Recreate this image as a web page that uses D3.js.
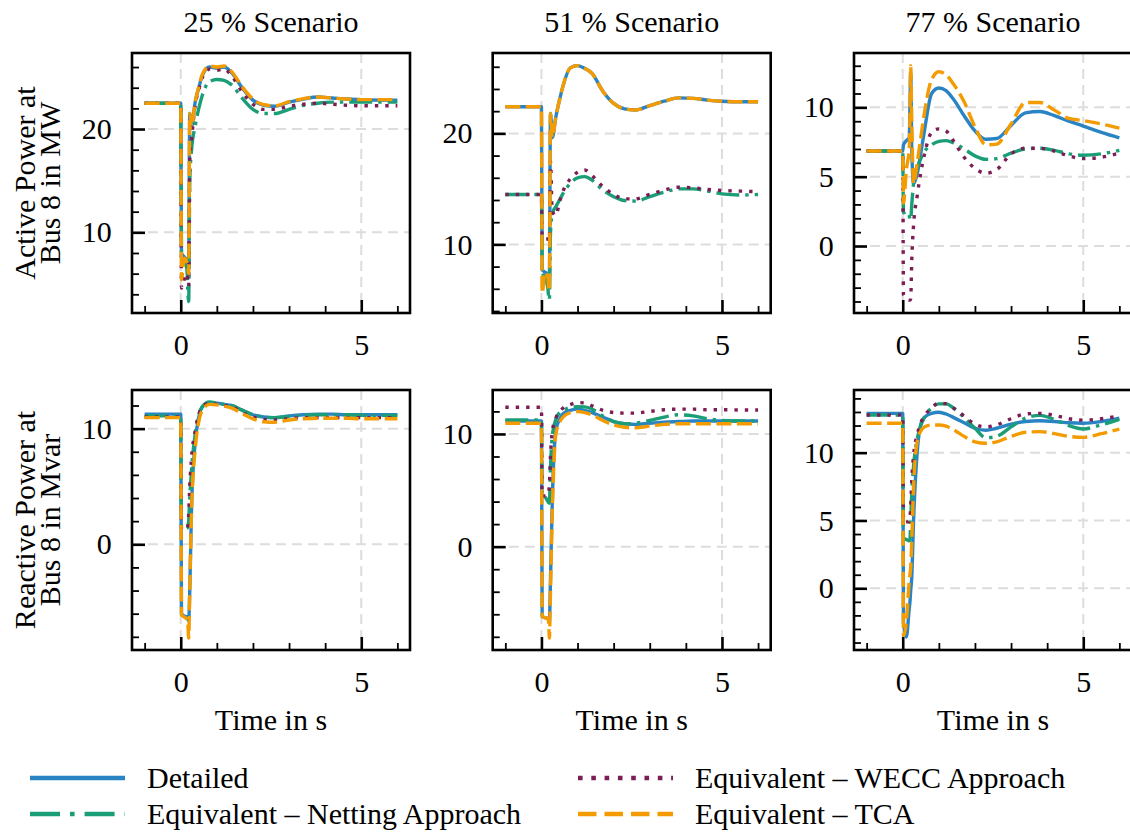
<!DOCTYPE html>
<html><head><meta charset="utf-8">
<script src="https://cdn.jsdelivr.net/npm/d3@7"></script>
<style>
body{margin:0;background:#fff;}
svg{display:block;}
svg text{font-family:"Liberation Serif","Times New Roman",Times,serif !important;fill:#000;}
</style>
</head><body>
<svg id="chart" width="1130" height="832"></svg>
<script>
// ---------------- data ----------------
const time = [-1, 0, 0.02, 0.1, 0.18, 0.2, 0.22, 0.25, 0.3, 0.4, 0.5, 0.6, 0.8, 1.0, 1.2, 1.4, 1.7, 2.0, 2.3, 2.6, 3.0, 3.4, 3.8, 4.2, 4.6, 5.0, 5.5, 6.0];
const scenarios = ["25 % Scenario", "51 % Scenario", "77 % Scenario"];
const seriesNames = ["Detailed", "Equivalent – Netting Approach", "Equivalent – WECC Approach", "Equivalent – TCA"];
const rowLabels = [["Active Power at", "Bus 8 in MW"], ["Reactive Power at", "Bus 8 in Mvar"]];
const xLabel = "Time in s";
const xMajorTicks = [0, 5];
const xMinorTicks = [-1, 1, 2, 3, 4, 6];
const yMajorTicks = [[[10, 20], [10, 20], [0, 5, 10]], [[0, 10], [0, 10], [0, 5, 10]]];
const yMinorStep = [[2, 2, 1], [2, 2, 1]];

// Active power, 25 %
const p25Detailed = [22.5,22.5,8.0,7.6,7.3,7.0,7.0,21.5,20.2,22.6,24.0,25.2,26.0,25.9,26.0,25.5,24.0,22.8,22.3,22.2,22.6,22.9,23.1,23.0,22.9,22.85,22.8,22.8];
const p25Netting  = [22.5,22.5,8.0,7.8,6.0,4.0,3.3,15.0,18.0,20.3,22.0,23.3,24.6,24.8,24.7,24.3,23.0,21.9,21.5,21.5,21.9,22.3,22.5,22.6,22.6,22.6,22.6,22.6];
const p25Wecc     = [22.5,22.5,4.6,5.5,6.0,5.0,4.8,17.0,19.0,22.3,23.8,25.0,25.8,25.7,25.8,25.2,23.6,22.4,21.9,21.9,22.2,22.4,22.5,22.4,22.3,22.25,22.25,22.25];
const p25Tca      = [22.5,22.5,5.4,7.5,7.0,6.5,6.0,21.5,20.2,22.6,24.1,25.3,26.1,26.0,26.1,25.6,24.1,22.9,22.35,22.25,22.65,22.95,23.1,23.0,22.9,22.85,22.85,22.85];
// Active power, 51 %
const p51Detailed = [22.4,22.4,7.7,7.5,7.3,7.0,7.0,21.8,19.6,21.5,23.0,24.3,25.9,26.1,25.85,25.4,23.8,22.7,22.2,22.1,22.5,22.9,23.2,23.15,23.0,22.9,22.85,22.85];
const p51Netting  = [14.5,14.5,7.5,7.0,6.0,5.2,5.0,11.0,12.8,13.4,14.0,14.6,15.5,16.0,16.1,15.8,14.9,14.3,13.95,13.9,14.3,14.7,15.0,15.0,14.8,14.55,14.45,14.5];
const p51Wecc     = [14.5,14.5,10.7,10.5,10.5,10.3,10.3,17.5,13.0,12.6,13.8,14.8,15.9,16.5,16.7,16.2,15.2,14.5,14.1,14.1,14.5,14.9,15.15,15.1,14.95,14.85,14.8,14.75];
const p51Tca      = [22.4,22.4,5.6,7.5,7.0,6.0,5.8,21.8,19.6,21.5,23.0,24.3,25.9,26.1,25.85,25.4,23.8,22.7,22.2,22.1,22.5,22.9,23.2,23.15,23.0,22.9,22.85,22.85];
// Active power, 77 %
const p77Detailed = [6.85,6.85,7.3,7.6,7.8,10.0,12.5,7.0,4.5,5.2,6.7,8.3,11.0,11.4,11.2,10.6,9.4,8.3,7.7,7.75,8.7,9.6,9.7,9.4,9.0,8.65,8.2,7.8];
const p77Netting  = [6.85,6.85,2.4,2.5,2.2,1.9,1.9,3.0,4.5,5.6,6.3,6.8,7.3,7.55,7.6,7.45,7.0,6.5,6.25,6.3,6.7,7.0,7.05,6.9,6.65,6.55,6.65,6.9];
const p77Wecc     = [6.85,6.85,-3.5,-3.8,-3.9,-3.9,-3.8,-1.0,1.5,3.6,5.3,6.6,8.2,8.45,8.3,7.6,6.4,5.6,5.25,5.5,6.65,7.05,7.05,6.85,6.5,6.3,6.4,6.7];
const p77Tca      = [6.85,6.85,3.1,5.5,7.0,9.5,13.0,9.0,4.5,6.0,7.8,9.6,12.0,12.57,12.35,11.7,10.4,8.6,7.3,7.35,8.8,10.35,10.35,9.8,9.2,9.05,8.8,8.5];
// Reactive power, 25 %
const q25Detailed = [11.25,11.25,-6.0,-6.2,-6.3,-6.5,-6.6,-4.0,3.3,8.8,11.0,11.9,12.25,12.2,12.1,12.0,11.6,11.2,11.0,10.95,11.1,11.2,11.25,11.25,11.2,11.2,11.2,11.2];
const q25Netting  = [11.1,11.1,1.5,1.3,1.4,1.6,2.0,4.0,6.5,9.5,11.2,11.9,12.3,12.2,12.1,12.0,11.6,11.2,11.0,10.95,11.05,11.15,11.2,11.2,11.2,11.15,11.15,11.15];
const q25Wecc     = [11.0,11.0,1.3,1.2,1.4,1.6,2.5,5.0,7.5,9.8,11.2,11.9,12.2,12.1,12.0,11.9,11.4,11.0,10.8,10.75,10.85,10.95,10.95,10.95,10.95,10.95,10.95,10.95];
const q25Tca      = [10.95,10.95,-6.1,-6.3,-6.5,-7.0,-8.1,-4.0,3.0,8.2,10.6,11.6,12.1,12.05,11.95,11.8,11.3,10.85,10.6,10.55,10.75,10.85,10.9,10.9,10.9,10.85,10.85,10.85];
// Reactive power, 51 %
const q51Detailed = [11.15,11.15,-6.2,-6.3,-6.4,-6.5,-6.6,-3.0,4.0,10.3,11.3,11.8,12.1,12.2,12.1,11.9,11.5,11.1,10.9,10.85,10.95,11.05,11.1,11.15,11.15,11.15,11.15,11.15];
const q51Netting  = [11.24,11.24,4.5,4.4,4.0,3.9,3.85,7.0,9.8,11.3,11.9,12.1,12.35,12.42,12.4,12.2,11.6,11.1,10.9,10.95,11.2,11.5,11.7,11.6,11.35,11.2,11.15,11.15];
const q51Wecc     = [12.37,12.37,4.5,4.5,4.6,4.8,5.5,8.0,10.2,11.4,12.0,12.3,12.6,12.78,12.75,12.5,12.1,11.9,11.85,11.85,12.0,12.15,12.2,12.2,12.15,12.15,12.13,12.13];
const q51Tca      = [10.95,10.95,-6.2,-6.3,-6.4,-6.8,-8.1,-4.0,3.0,10.0,11.0,11.5,11.9,11.98,11.9,11.7,11.2,10.8,10.6,10.55,10.7,10.85,10.9,10.9,10.9,10.9,10.9,10.9];
// Reactive power, 77 %
const q77Detailed = [12.9,12.9,-2.5,-3.6,-1.5,-1.0,-0.2,0.8,5.0,10.0,12.1,12.6,12.9,12.98,12.85,12.6,12.2,11.8,11.65,11.8,12.1,12.3,12.35,12.3,12.2,12.17,12.3,12.55];
const q77Netting  = [12.78,12.78,3.7,3.6,3.5,3.6,5.0,7.0,9.0,11.0,12.0,12.6,13.3,13.6,13.6,13.3,12.6,11.8,11.1,11.2,11.9,12.55,12.75,12.45,12.0,11.75,12.05,12.45];
const q77Wecc     = [12.78,12.78,4.9,4.9,4.9,5.2,6.0,8.0,9.8,11.3,12.2,12.7,13.3,13.65,13.6,13.3,12.7,12.1,11.9,12.05,12.5,12.85,12.9,12.75,12.5,12.4,12.5,12.7];
const q77Tca      = [12.17,12.17,-3.5,-2.5,0.5,1.0,1.5,3.5,7.5,10.8,11.6,11.9,12.04,12.04,11.95,11.7,11.2,10.8,10.69,10.8,11.2,11.5,11.55,11.4,11.2,11.13,11.4,11.73];

// ---------------- layout / style ----------------
const panelLeft = [132, 492.7, 854];
const panelTop = [53, 390];
const PW = 278, PH = 260;
const xDomain = [-1.35, 6.35];
const yDomains = [[[2.19, 27.36], [3.82, 27.24], [-4.83, 13.92]],
                  [[-9.14, 13.34], [-9.17, 13.9], [-4.55, 14.62]]];
const colors = ["#2a84c4", "#1b9e77", "#7d1d55", "#f39b00"];
const dashes = ["none", "23,6,3.4,6", "3.4,7", "15,5.5"];
const legendDashes = ["none", "30,10,4.6,10", "4.6,8.7", "18.5,8"];
const FS = 30;
const FONT = '"Liberation Serif","Times New Roman",Times,serif';

const panelData = [
  [[p25Detailed, p25Netting, p25Wecc, p25Tca], [p51Detailed, p51Netting, p51Wecc, p51Tca], [p77Detailed, p77Netting, p77Wecc, p77Tca]],
  [[q25Detailed, q25Netting, q25Wecc, q25Tca], [q51Detailed, q51Netting, q51Wecc, q51Tca], [q77Detailed, q77Netting, q77Wecc, q77Tca]]
];

const svg = d3.select("#chart").attr("font-family", FONT);
svg.append("rect").attr("width", 1130).attr("height", 832).attr("fill", "#fff");

function addText(sel) {
  return sel.append("text").style("font-family", FONT).style("font-size", FS + "px").attr("fill", "#000");
}

for (let r = 0; r < 2; r++) {
  for (let c = 0; c < 3; c++) {
    const g = svg.append("g").attr("transform", `translate(${panelLeft[c]},${panelTop[r]})`);
    const x = d3.scaleLinear().domain(xDomain).range([0, PW]);
    const y = d3.scaleLinear().domain(yDomains[r][c]).range([PH, 0]);
    const majors = yMajorTicks[r][c];
    const step = yMinorStep[r][c];
    const dom = yDomains[r][c];
    const minors = d3.range(Math.ceil(dom[0] / step) * step, dom[1], step)
      .filter(v => !majors.some(m => Math.abs(m - v) < 1e-9));

    // grid
    g.selectAll(".gx").data(xMajorTicks).join("line")
      .attr("x1", d => x(d)).attr("x2", d => x(d)).attr("y1", 0).attr("y2", PH)
      .attr("stroke", "#dddddd").attr("stroke-width", 2).attr("stroke-dasharray", "10,6");
    g.selectAll(".gy").data(majors).join("line")
      .attr("y1", d => y(d)).attr("y2", d => y(d)).attr("x1", 0).attr("x2", PW)
      .attr("stroke", "#dddddd").attr("stroke-width", 2).attr("stroke-dasharray", "10,6");

    // lines
    const line = d3.line().x((d, i) => x(time[i])).y(d => y(d)).curve(d3.curveMonotoneX);
    panelData[r][c].forEach((vals, k) => {
      g.append("path").datum(vals).attr("d", line)
        .attr("fill", "none").attr("stroke", colors[k]).attr("stroke-width", 3.4)
        .attr("stroke-dasharray", dashes[k]).attr("stroke-linejoin", "round");
    });

    // minor ticks
    const minorX = g.append("g").attr("transform", `translate(0,${PH})`)
      .call(d3.axisBottom(x).tickValues(xMinorTicks).tickSize(-7).tickFormat(""));
    const minorY = g.append("g")
      .call(d3.axisLeft(y).tickValues(minors).tickSize(-7).tickFormat(""));
    [minorX, minorY].forEach(a => {
      a.select(".domain").remove();
      a.selectAll(".tick line").attr("stroke", "#000").attr("stroke-width", 1.8);
    });
    // major ticks + labels
    const majX = g.append("g").attr("transform", `translate(0,${PH})`)
      .call(d3.axisBottom(x).tickValues(xMajorTicks).tickSize(-13).tickPadding(20.4).tickFormat(d3.format("d")));
    const majY = g.append("g")
      .call(d3.axisLeft(y).tickValues(majors).tickSize(-13).tickPadding(20.3).tickFormat(d3.format("d")));
    [majX, majY].forEach(a => {
      a.attr("font-family", FONT).attr("font-size", FS);
      a.select(".domain").remove();
      a.selectAll(".tick line").attr("stroke", "#000").attr("stroke-width", 2.6);
      a.selectAll(".tick text").attr("fill", "#000")
        .style("font-family", FONT).style("font-size", FS + "px");
    });

    // frame
    g.append("rect").attr("x", 0).attr("y", 0).attr("width", PW).attr("height", PH)
      .attr("fill", "none").attr("stroke", "#000").attr("stroke-width", 2.6);

    if (r === 0) {
      addText(g).attr("x", PW / 2).attr("y", 31.7 - panelTop[0])
        .attr("text-anchor", "middle").text(scenarios[c]);
    }
    if (r === 1) {
      addText(g).attr("x", PW / 2).attr("y", 730 - panelTop[1])
        .attr("text-anchor", "middle").text(xLabel);
    }
    if (c === 0) {
      const cy = PH / 2;
      rowLabels[r].forEach((txt, j) => {
        const bx = (j === 0 ? 35 : 60) - panelLeft[0];
        addText(g).attr("transform", `translate(${bx},${cy}) rotate(-90)`)
          .attr("text-anchor", "middle").text(txt);
      });
    }
  }
}

// legend
const legendX = [30, 578];
const legendY = [778, 814];
const lg = svg.append("g");
seriesNames.forEach((name, k) => {
  const col = Math.floor(k / 2), row = k % 2;
  const lx = legendX[col], ly = legendY[row];
  lg.append("line").attr("x1", lx).attr("x2", lx + 95).attr("y1", ly).attr("y2", ly)
    .attr("stroke", colors[k]).attr("stroke-width", 4.6).attr("stroke-dasharray", legendDashes[k]);
  addText(lg).attr("x", lx + 117).attr("y", ly + 10).text(name);
});
</script>
</body></html>
